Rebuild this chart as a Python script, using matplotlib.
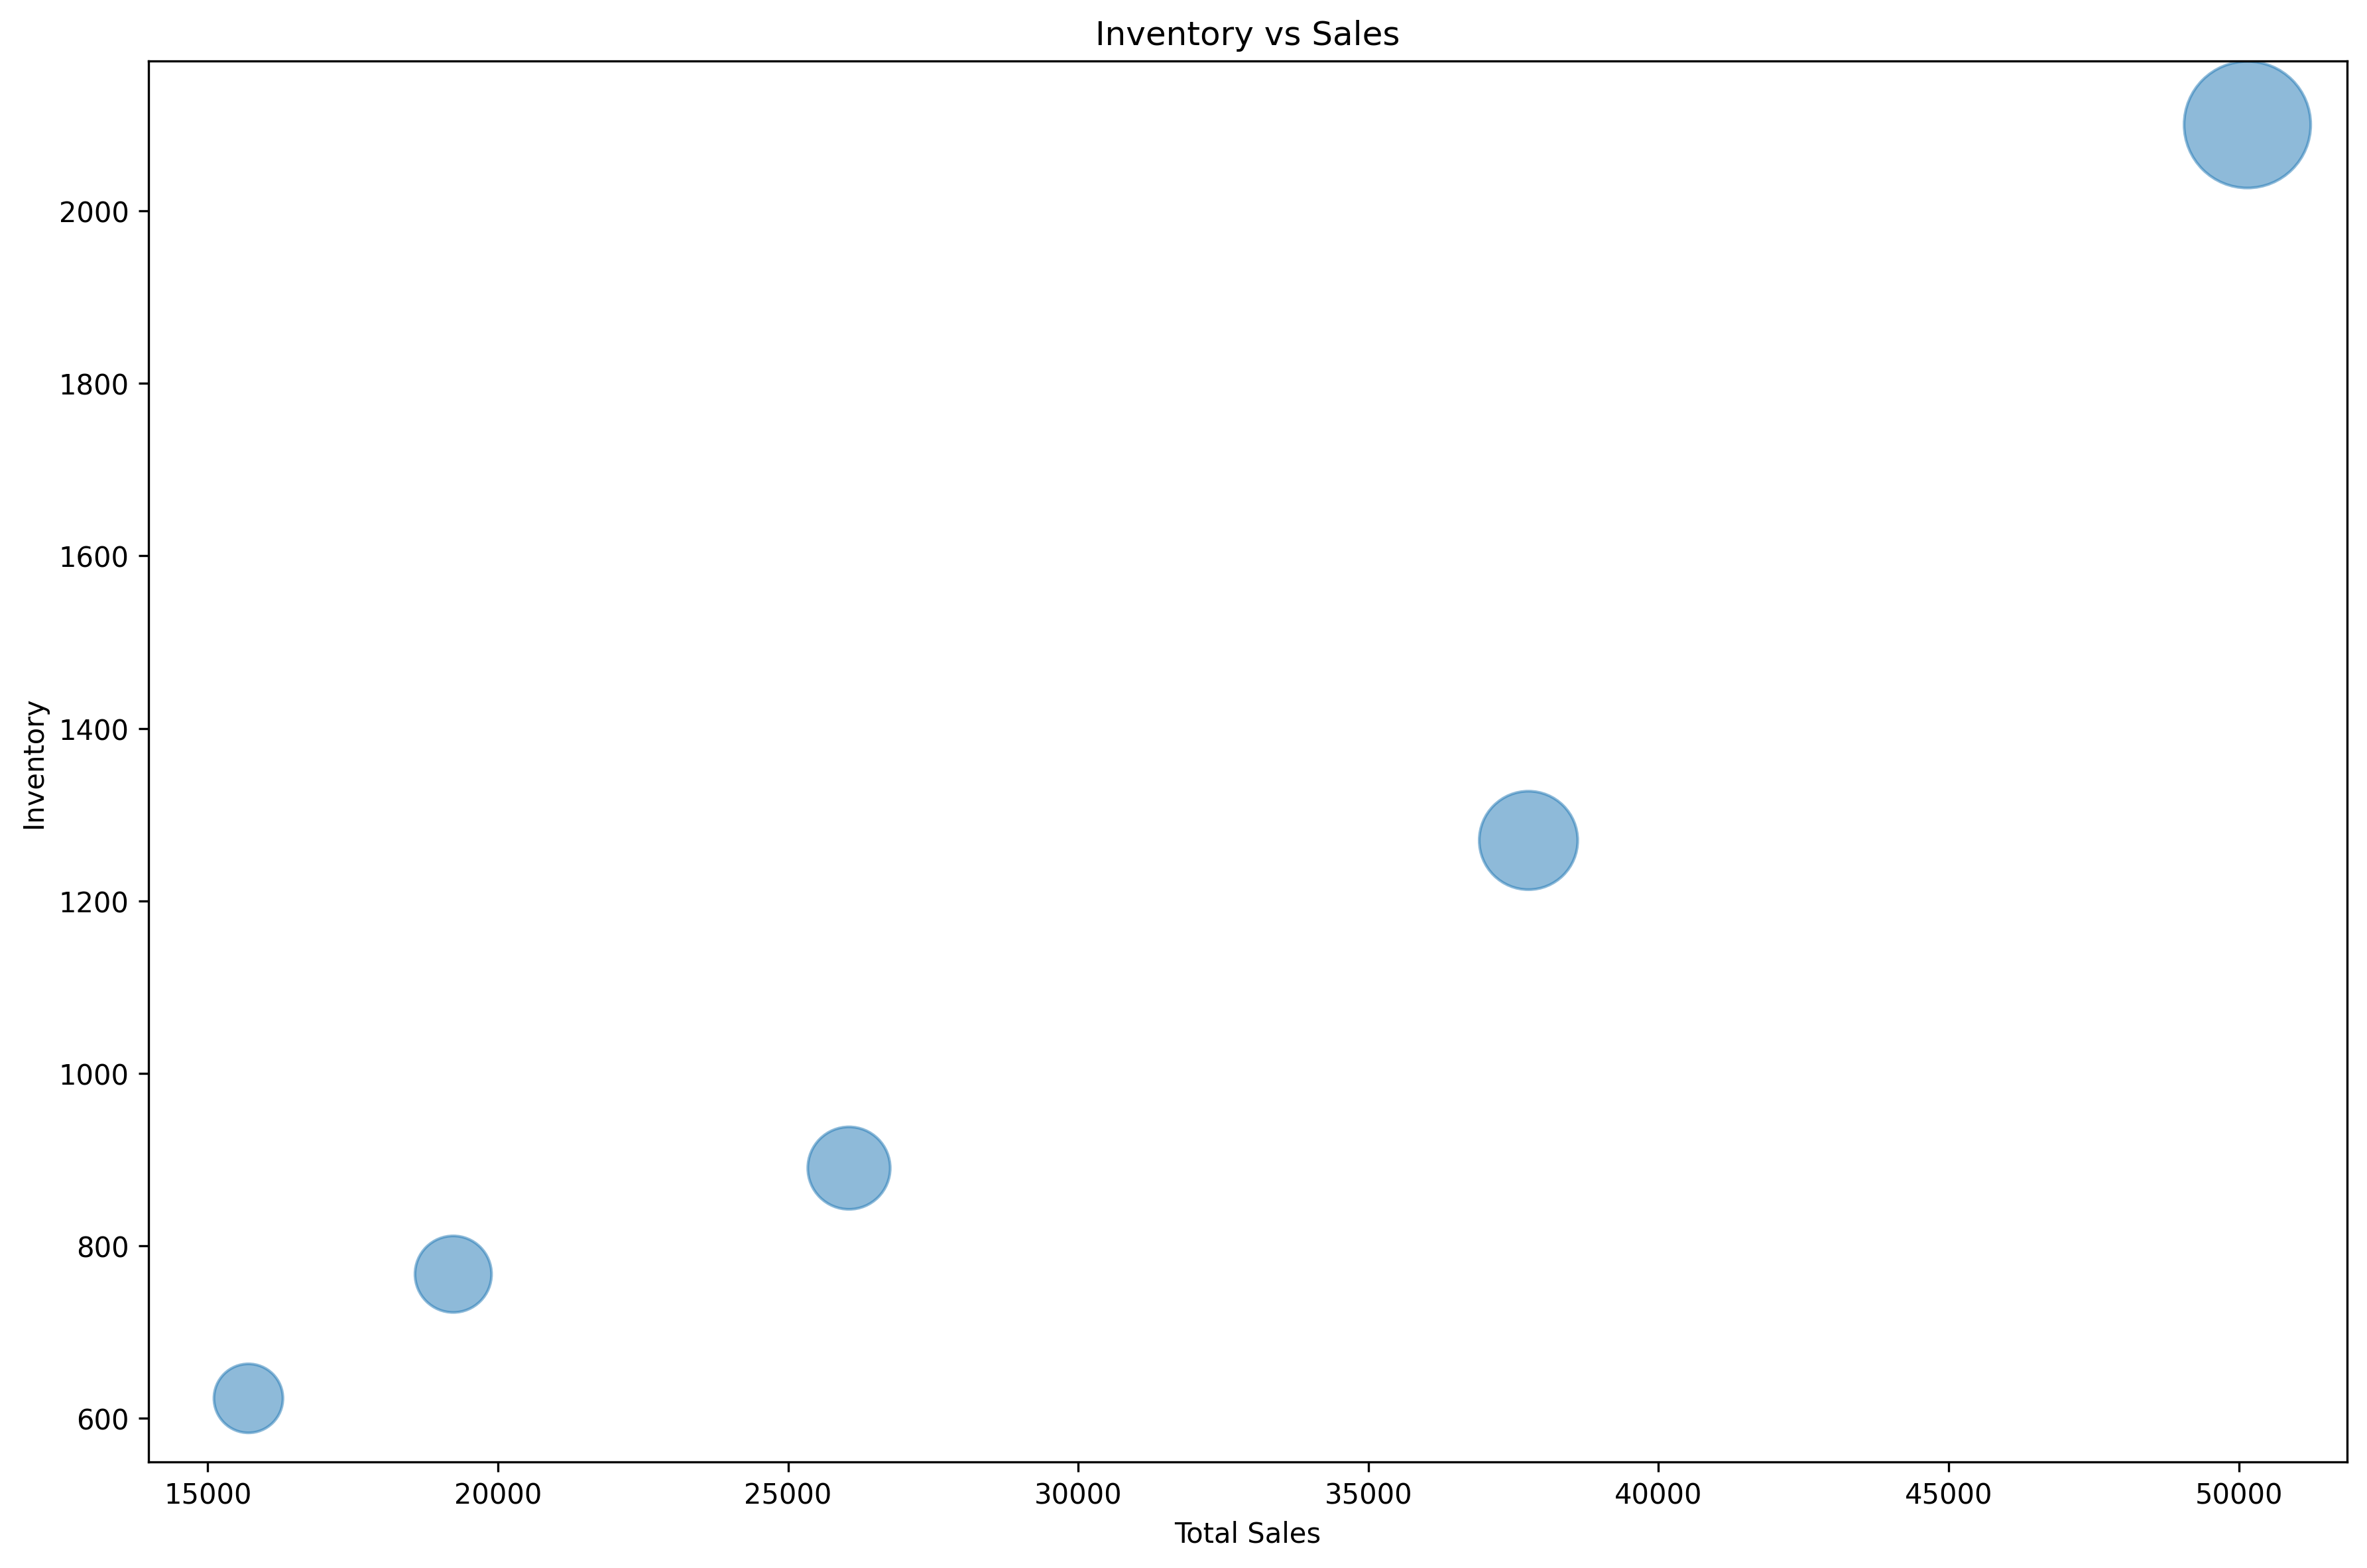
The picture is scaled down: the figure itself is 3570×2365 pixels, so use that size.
import matplotlib.pyplot as plt

total_sales = [15700, 19230, 26050, 37760, 50150]
inventory = [623, 767, 890, 1270, 2100]

plt.figure(figsize=(12, 8))
plt.scatter(total_sales, inventory, s=inventory, alpha=0.5)
plt.title('Inventory vs Sales')
plt.xlabel('Total Sales')
plt.ylabel('Inventory')
plt.tight_layout()
plt.savefig('out.png', dpi=300, bbox_inches='tight')
